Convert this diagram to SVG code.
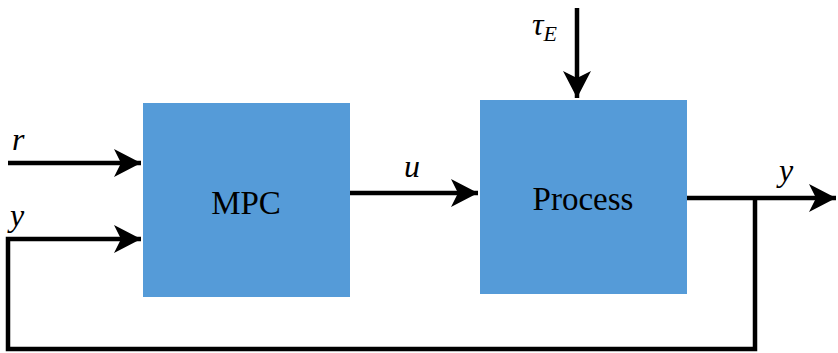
<svg xmlns="http://www.w3.org/2000/svg" width="838" height="353" viewBox="0 0 838 353">
<style>
.box{fill:#559bd8;stroke:none}
.lbl{font-family:"Liberation Serif","Times New Roman",serif;font-size:33px;fill:#000;text-anchor:middle}
.var{font-family:"Liberation Serif","Times New Roman",serif;font-size:32px;font-style:italic;fill:#000}
.ln{fill:none;stroke:#000;stroke-width:4.5;stroke-linejoin:miter}
</style>
<defs>
<marker id="ah" markerUnits="userSpaceOnUse" markerWidth="28" markerHeight="30" refX="27" refY="15" orient="auto">
<path d="M0,1 L27,15 L0,29 L7,15 Z" fill="#000"/>
</marker>
</defs>
<rect width="838" height="353" fill="#fff"/>
<g id="mpc">
<rect class="box" x="143" y="103" width="207" height="194"/>
<text class="lbl" x="246" y="214">MPC</text>
</g>
<g id="process">
<rect class="box" x="480" y="100" width="207" height="194"/>
<text class="lbl" x="583" y="210">Process</text>
</g>
<g id="connectors">
<path class="ln" d="M8,163 H141" marker-end="url(#ah)"/>
<path class="ln" d="M755,198 V349 H8 V239 H141" marker-end="url(#ah)"/>
<path class="ln" d="M350,193 H478" marker-end="url(#ah)"/>
<path class="ln" d="M687,198 H836" marker-end="url(#ah)"/>
<path class="ln" d="M577,8 V98" marker-end="url(#ah)"/>
</g>
<g id="labels">
<text class="var" x="12" y="150">r</text>
<text class="var" x="10" y="226">y</text>
<text class="var" x="404" y="177">u</text>
<text class="var" x="779" y="181">y</text>
<text class="var" x="532" y="35">τ<tspan font-size="22" dy="6">E</tspan></text>
</g>
</svg>
